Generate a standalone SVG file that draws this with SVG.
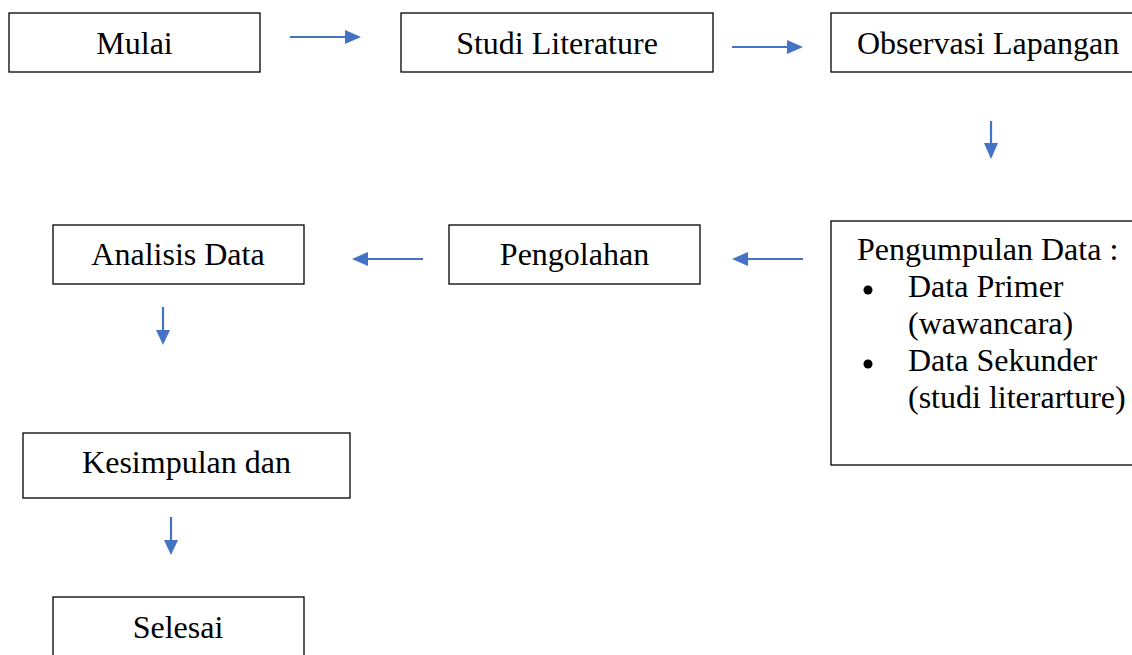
<svg xmlns="http://www.w3.org/2000/svg" width="1132" height="655" viewBox="0 0 1132 655">
<style>
.box{fill:#fff;stroke:#000;stroke-width:1.3}
.t{font-family:'Liberation Serif','Times New Roman','DejaVu Serif',serif;font-size:32px;fill:#000}
.c{text-anchor:middle}
.ln{stroke:#4472C4;stroke-width:2.2;fill:none}
.hd{fill:#4472C4}
</style>
<rect width="1132" height="655" fill="#fff"/>
<g id="mulai"><rect class="box" x="9" y="13" width="251" height="59"/><text class="t c" x="134.5" y="54" font-family="Liberation Serif, serif">Mulai</text></g>
<g id="studi"><rect class="box" x="401" y="13" width="312" height="59"/><text class="t c" x="557" y="54" font-family="Liberation Serif, serif">Studi Literature</text></g>
<g id="observasi"><rect class="box" x="831" y="13" width="320" height="59"/><text class="t" x="857" y="54" font-family="Liberation Serif, serif">Observasi Lapangan</text></g>
<g id="pengumpulan" font-family="Liberation Serif, serif"><rect class="box" x="831" y="221" width="320" height="244"/>
<text class="t" x="857" y="260">Pengumpulan Data :</text>
<circle cx="868" cy="290" r="4.5" fill="#000"/>
<text class="t" x="908" y="297">Data Primer</text>
<text class="t" x="908" y="334">(wawancara)</text>
<circle cx="868" cy="364" r="4.5" fill="#000"/>
<text class="t" x="908" y="371">Data Sekunder</text>
<text class="t" x="908" y="408">(studi literarture)</text></g>
<g id="pengolahan"><rect class="box" x="449" y="225" width="251" height="59"/><text class="t c" x="574.5" y="265" font-family="Liberation Serif, serif">Pengolahan</text></g>
<g id="analisis"><rect class="box" x="53" y="225" width="251" height="59"/><text class="t c" x="178" y="265" font-family="Liberation Serif, serif">Analisis Data</text></g>
<g id="kesimpulan"><rect class="box" x="23" y="433" width="327" height="65"/><text class="t c" x="186.5" y="473" font-family="Liberation Serif, serif">Kesimpulan dan</text></g>
<g id="selesai"><rect class="box" x="53" y="597" width="251" height="70"/><text class="t c" x="178" y="638" font-family="Liberation Serif, serif">Selesai</text></g>
<g id="connectors">
<line class="ln" x1="290" y1="37" x2="346" y2="37"/><polygon class="hd" points="345,30 361,37 345,44"/>
<line class="ln" x1="732" y1="47" x2="788" y2="47"/><polygon class="hd" points="787,40 803,47 787,54"/>
<line class="ln" x1="991" y1="121" x2="991" y2="144"/><polygon class="hd" points="984,143 998,143 991,159"/>
<line class="ln" x1="803" y1="259" x2="747" y2="259"/><polygon class="hd" points="748,252 732,259 748,266"/>
<line class="ln" x1="423" y1="259" x2="367" y2="259"/><polygon class="hd" points="368,252 352,259 368,266"/>
<line class="ln" x1="163" y1="307" x2="163" y2="331"/><polygon class="hd" points="156,330 170,330 163,345"/>
<line class="ln" x1="171" y1="517" x2="171" y2="541"/><polygon class="hd" points="164,540 178,540 171,555"/>
</g>
</svg>
